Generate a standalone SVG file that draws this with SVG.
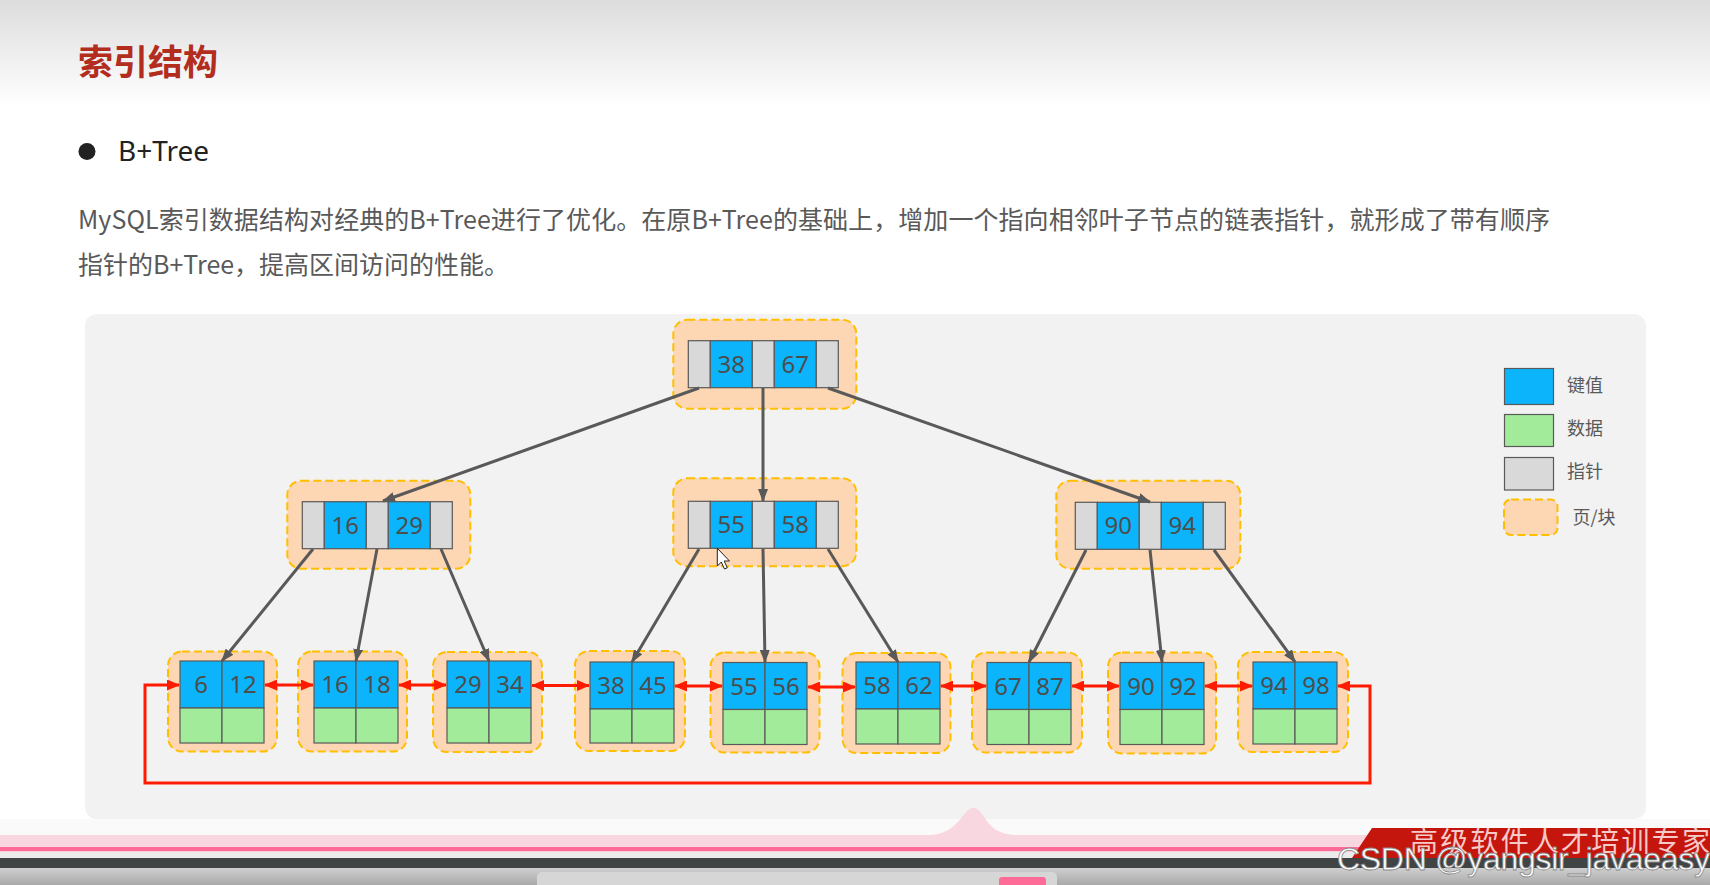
<svg xmlns="http://www.w3.org/2000/svg" width="1710" height="885" viewBox="0 0 1710 885">
<defs>
<linearGradient id="hdr" x1="0" y1="0" x2="0" y2="1">
<stop offset="0" stop-color="#dcdcdc"/>
<stop offset="1" stop-color="#ffffff"/>
</linearGradient>
<linearGradient id="bar" x1="0" y1="0" x2="0" y2="1">
<stop offset="0" stop-color="#cfcfcf"/>
<stop offset="1" stop-color="#a9a9a9"/>
</linearGradient>
<marker id="ga" viewBox="0 0 13 10" refX="12" refY="5" markerWidth="13" markerHeight="10" markerUnits="userSpaceOnUse" orient="auto">
<path d="M0,0 L13,5 L0,10 z" fill="#595959"/>
</marker>
<marker id="ra" viewBox="0 0 13 11" refX="12" refY="5.5" markerWidth="13" markerHeight="11" markerUnits="userSpaceOnUse" orient="auto-start-reverse">
<path d="M0,0 L13,5.5 L0,11 z" fill="#ff1a00"/>
</marker>
</defs>
<style>
.pg{fill:#fdd6b3;stroke:#ffbf00;stroke-width:2;stroke-dasharray:8 4}
.k{fill:#0cb4fb;stroke:#595959;stroke-width:1.2}
.d{fill:#a2eb9b;stroke:#595959;stroke-width:1.2}
.p{fill:#d9d9d9;stroke:#595959;stroke-width:1.2}
.n{font-family:"Noto Sans","Open Sans",sans-serif;font-size:24px;fill:#4d4d4d;text-anchor:middle}
.lg{font-family:"Noto Sans CJK SC",sans-serif;font-size:18px;fill:#595959}
.e{stroke:#595959;stroke-width:3;fill:none;marker-end:url(#ga)}
.r{stroke:#ff1a00;stroke-width:3;fill:none;marker-start:url(#ra);marker-end:url(#ra)}
.tx{font-family:"Noto Sans CJK SC",sans-serif;font-size:25px;fill:#595959}
</style>

<!-- page background -->
<rect x="0" y="0" width="1710" height="885" fill="#ffffff"/>
<rect x="0" y="0" width="1710" height="105" fill="url(#hdr)"/>

<!-- header texts -->
<text x="78" y="75" font-family="'Noto Sans CJK SC',sans-serif" font-size="35" font-weight="bold" fill="#b22d1e">索引结构</text>
<circle cx="87" cy="151.5" r="8.5" fill="#222222"/>
<text x="118" y="161" font-family="'Noto Sans','Noto Sans CJK SC',sans-serif" font-size="28" fill="#222222">B+Tree</text>
<text class="tx" x="78" y="229" textLength="1472">MySQL索引数据结构对经典的B+Tree进行了优化。在原B+Tree的基础上，增加一个指向相邻叶子节点的链表指针，就形成了带有顺序</text>
<text class="tx" x="78" y="274">指针的B+Tree，提高区间访问的性能。</text>

<!-- diagram panel -->
<rect x="85" y="314" width="1561" height="505" rx="12" fill="#f2f2f2"/>

<!-- internal nodes -->
<g id="root" transform="translate(688.3,340.7)">
<rect class="pg" x="-15" y="-21" width="183" height="89" rx="14"/>
<rect class="p" x="0" y="0" width="22" height="47"/>
<rect class="k" x="22" y="0" width="42" height="47"/>
<rect class="p" x="64" y="0" width="22" height="47"/>
<rect class="k" x="86" y="0" width="42" height="47"/>
<rect class="p" x="128" y="0" width="22" height="47"/>
<text class="n" x="43" y="32">38</text>
<text class="n" x="107" y="32">67</text>
</g>
<g id="node-16-29" transform="translate(302.3,501.7)">
<rect class="pg" x="-15" y="-21" width="183" height="88" rx="14"/>
<rect class="p" x="0" y="0" width="22" height="47"/>
<rect class="k" x="22" y="0" width="42" height="47"/>
<rect class="p" x="64" y="0" width="22" height="47"/>
<rect class="k" x="86" y="0" width="42" height="47"/>
<rect class="p" x="128" y="0" width="22" height="47"/>
<text class="n" x="43" y="32">16</text>
<text class="n" x="107" y="32">29</text>
</g>
<g id="node-55-58" transform="translate(688.3,501.3)">
<rect class="pg" x="-15" y="-23" width="183" height="88" rx="14"/>
<rect class="p" x="0" y="0" width="22" height="47"/>
<rect class="k" x="22" y="0" width="42" height="47"/>
<rect class="p" x="64" y="0" width="22" height="47"/>
<rect class="k" x="86" y="0" width="42" height="47"/>
<rect class="p" x="128" y="0" width="22" height="47"/>
<text class="n" x="43" y="32">55</text>
<text class="n" x="107" y="32">58</text>
</g>
<g id="node-90-94" transform="translate(1075.3,502.3)">
<rect class="pg" x="-19" y="-21.5" width="184" height="88" rx="14"/>
<rect class="p" x="0" y="0" width="22" height="47"/>
<rect class="k" x="22" y="0" width="42" height="47"/>
<rect class="p" x="64" y="0" width="22" height="47"/>
<rect class="k" x="86" y="0" width="42" height="47"/>
<rect class="p" x="128" y="0" width="22" height="47"/>
<text class="n" x="43" y="32">90</text>
<text class="n" x="107" y="32">94</text>
</g>

<!-- leaf nodes -->
<g id="leaf-6-12" transform="translate(180,661)">
<rect class="pg" x="-12" y="-9.5" width="109" height="100" rx="14"/>
<rect class="k" x="0" y="0" width="42" height="47"/><rect class="k" x="42" y="0" width="42" height="47"/>
<rect class="d" x="0" y="47" width="42" height="35"/><rect class="d" x="42" y="47" width="42" height="35"/>
<text class="n" x="21" y="32">6</text><text class="n" x="63" y="32">12</text>
</g>
<g id="leaf-16-18" transform="translate(314,661)">
<rect class="pg" x="-16" y="-9.5" width="109" height="100" rx="14"/>
<rect class="k" x="0" y="0" width="42" height="47"/><rect class="k" x="42" y="0" width="42" height="47"/>
<rect class="d" x="0" y="47" width="42" height="35"/><rect class="d" x="42" y="47" width="42" height="35"/>
<text class="n" x="21" y="32">16</text><text class="n" x="63" y="32">18</text>
</g>
<g id="leaf-29-34" transform="translate(447,661)">
<rect class="pg" x="-14" y="-9" width="109" height="100" rx="14"/>
<rect class="k" x="0" y="0" width="42" height="47"/><rect class="k" x="42" y="0" width="42" height="47"/>
<rect class="d" x="0" y="47" width="42" height="35"/><rect class="d" x="42" y="47" width="42" height="35"/>
<text class="n" x="21" y="32">29</text><text class="n" x="63" y="32">34</text>
</g>
<g id="leaf-38-45" transform="translate(590,662)">
<rect class="pg" x="-15" y="-11" width="110" height="100" rx="14"/>
<rect class="k" x="0" y="0" width="42" height="47"/><rect class="k" x="42" y="0" width="42" height="47"/>
<rect class="d" x="0" y="47" width="42" height="34"/><rect class="d" x="42" y="47" width="42" height="34"/>
<text class="n" x="21" y="32">38</text><text class="n" x="63" y="32">45</text>
</g>
<g id="leaf-55-56" transform="translate(723,662.5)">
<rect class="pg" x="-12.5" y="-10" width="109" height="100" rx="14"/>
<rect class="k" x="0" y="0" width="42" height="47"/><rect class="k" x="42" y="0" width="42" height="47"/>
<rect class="d" x="0" y="47" width="42" height="35"/><rect class="d" x="42" y="47" width="42" height="35"/>
<text class="n" x="21" y="32">55</text><text class="n" x="63" y="32">56</text>
</g>
<g id="leaf-58-62" transform="translate(856,662)">
<rect class="pg" x="-13.5" y="-9" width="108" height="100" rx="14"/>
<rect class="k" x="0" y="0" width="42" height="47"/><rect class="k" x="42" y="0" width="42" height="47"/>
<rect class="d" x="0" y="47" width="42" height="35"/><rect class="d" x="42" y="47" width="42" height="35"/>
<text class="n" x="21" y="32">58</text><text class="n" x="63" y="32">62</text>
</g>
<g id="leaf-67-87" transform="translate(987,662.5)">
<rect class="pg" x="-15" y="-10" width="110" height="100" rx="14"/>
<rect class="k" x="0" y="0" width="42" height="47"/><rect class="k" x="42" y="0" width="42" height="47"/>
<rect class="d" x="0" y="47" width="42" height="35"/><rect class="d" x="42" y="47" width="42" height="35"/>
<text class="n" x="21" y="32">67</text><text class="n" x="63" y="32">87</text>
</g>
<g id="leaf-90-92" transform="translate(1120,662.5)">
<rect class="pg" x="-12" y="-10" width="108" height="101" rx="14"/>
<rect class="k" x="0" y="0" width="42" height="47"/><rect class="k" x="42" y="0" width="42" height="47"/>
<rect class="d" x="0" y="47" width="42" height="35"/><rect class="d" x="42" y="47" width="42" height="35"/>
<text class="n" x="21" y="32">90</text><text class="n" x="63" y="32">92</text>
</g>
<g id="leaf-94-98" transform="translate(1253,662)">
<rect class="pg" x="-15" y="-10" width="110" height="100" rx="14"/>
<rect class="k" x="0" y="0" width="42" height="47"/><rect class="k" x="42" y="0" width="42" height="47"/>
<rect class="d" x="0" y="47" width="42" height="35"/><rect class="d" x="42" y="47" width="42" height="35"/>
<text class="n" x="21" y="32">94</text><text class="n" x="63" y="32">98</text>
</g>

<!-- connectors (drawn over the page boxes) -->
<g id="connectors">
<line class="e" x1="699" y1="388" x2="383" y2="501"/>
<line class="e" x1="763" y1="388" x2="763" y2="501"/>
<line class="e" x1="828" y1="388" x2="1150" y2="502"/>
<line class="e" x1="313" y1="549" x2="222" y2="661"/>
<line class="e" x1="377" y1="549" x2="356" y2="661"/>
<line class="e" x1="441" y1="549" x2="489" y2="661"/>
<line class="e" x1="699" y1="549" x2="632" y2="662"/>
<line class="e" x1="763" y1="549" x2="765" y2="662"/>
<line class="e" x1="828" y1="549" x2="898" y2="662"/>
<line class="e" x1="1086" y1="550" x2="1029" y2="662"/>
<line class="e" x1="1150" y1="550" x2="1162" y2="662"/>
<line class="e" x1="1214" y1="550" x2="1295" y2="662"/>
<line class="r" x1="265" y1="685" x2="313" y2="685"/>
<line class="r" x1="399" y1="685" x2="446" y2="685"/>
<line class="r" x1="532" y1="685.5" x2="589" y2="685.5"/>
<line class="r" x1="675" y1="686" x2="722" y2="686"/>
<line class="r" x1="808" y1="687" x2="855" y2="687"/>
<line class="r" x1="941" y1="686" x2="986" y2="686"/>
<line class="r" x1="1072" y1="686" x2="1119" y2="686"/>
<line class="r" x1="1205" y1="686" x2="1252" y2="686"/>
<path class="r" d="M1338,686 L1370,686 L1370,783 L145,783 L145,685 L179,685"/>
</g>

<!-- legend -->
<g id="legend">
<rect class="k" x="1504.5" y="368.5" width="49" height="36"/>
<text class="lg" x="1567" y="392">键值</text>
<rect class="d" x="1504.5" y="414.5" width="49" height="32"/>
<text class="lg" x="1567" y="434.5">数据</text>
<rect class="p" x="1504.5" y="457.5" width="49" height="32.5"/>
<text class="lg" x="1567" y="477.5">指针</text>
<rect class="pg" x="1504" y="499.5" width="53.5" height="35.5" rx="7"/>
<text class="lg" x="1572.5" y="523.5">页/块</text>
</g>

<!-- mouse cursor -->
<path d="M717.3,548.3 L717.3,566 L721.3,562 L724.5,569 L727.3,567.8 L724.2,561 L729.5,561 Z" fill="#ffffff" stroke="#222222" stroke-width="1"/>

<!-- bottom screen chrome -->
<rect x="0" y="819" width="1710" height="16" fill="#fafafa"/>
<path d="M0,835 L930,835 C950,834 958,822 966,812 C972,806 976,806 982,814 C990,826 996,834 1015,835 L1710,835 L1710,847 L0,847 Z" fill="#f9d7e1"/>
<rect x="0" y="847" width="1710" height="4.5" fill="#ff6b97"/>
<rect x="0" y="851.5" width="1710" height="6.5" fill="#ebebeb"/>
<rect x="0" y="858" width="1710" height="10" fill="#404444"/>
<rect x="0" y="868" width="1710" height="17" fill="url(#bar)"/>
<rect x="537" y="872" width="520" height="20" rx="5" fill="#d6d6d6"/>
<rect x="999" y="877" width="47" height="12" rx="3" fill="#ff6b97"/>
<path d="M1372,828 L1710,828 L1710,858 L1352,858 Z" fill="#c4160c"/>
<text x="1410" y="852" font-family="'Noto Sans CJK SC',sans-serif" font-size="28" fill="#f7c9c9" textLength="300">高级软件人才培训专家</text>
<text x="1337" y="870" font-family="'Liberation Sans',sans-serif" font-size="32" fill="#ffffff" stroke="#8a8a8a" stroke-width="0.8" textLength="373">CSDN @yangsir_javaeasy</text>
</svg>
